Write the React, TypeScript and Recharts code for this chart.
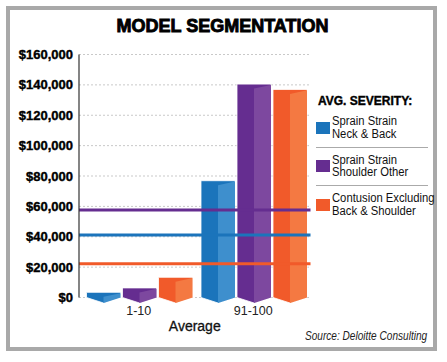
import React from "react";
import { Bar, BarChart, CartesianGrid, ReferenceLine, XAxis, YAxis } from "recharts";

const ranges = ["1-10", "91-100"];
const neckBack = [3400, 76900];
const shoulderOther = [6300, 140500];
const contusion = [13300, 137000];
const avgSeverity = [41200, 57600, 22300];
const yTicks = [0, 20000, 40000, 60000, 80000, 100000, 120000, 140000, 160000];

const seriesKeys = ["neckBack", "shoulderOther", "contusion"];
const seriesLabels = [
  ["Sprain Strain", "Neck & Back"],
  ["Sprain Strain", "Shoulder Other"],
  ["Contusion Excluding", "Back & Shoulder"],
];
const darkColors = ["#1b74bb", "#652d90", "#f15a2a"];
const lightColors = ["#3e8fcd", "#7d489f", "#f47942"];

const data = ranges.map((range, i) => ({
  range,
  neckBack: neckBack[i],
  shoulderOther: shoulderOther[i],
  contusion: contusion[i],
}));

const SANS = "'Liberation Sans', Arial, sans-serif";

function Prism(props: any) {
  const { x, y, width, height, dark, light } = props;
  if (width == null || height == null) return null;
  const b = y + height;
  const cx = x + width / 2;
  const d = 5.5;
  const outer = `${x},${y} ${x + width},${y} ${x + width},${b} ${cx},${b + d} ${x},${b}`;
  const face = `${cx},${Math.min(y + 4.5, b)} ${x + width},${Math.min(y + 0.8, b)} ${x + width},${b} ${cx},${b + d}`;
  return (
    <g>
      <polygon points={outer} fill={dark} stroke="#fff" strokeWidth={0.8} />
      <polygon points={face} fill={light} />
    </g>
  );
}

const narrow = (scale: number): React.CSSProperties => ({
  display: "inline-block",
  transform: `scaleX(${scale})`,
  transformOrigin: "left top",
  whiteSpace: "nowrap",
});

export default function App() {
  return (
    <div style={{ position: "absolute", left: 0, top: 0, width: 447, height: 362, background: "#fff", fontFamily: SANS }}>
      <div style={{ position: "absolute", left: 6, top: 6, width: 423, height: 337, border: "4px solid #a9a9a9" }} />
      <div style={{ position: "absolute", left: 0, top: 16, width: 445, textAlign: "center", fontSize: 18, fontWeight: "bold", color: "#000", WebkitTextStroke: "0.9px #000" }}>
        MODEL SEGMENTATION
      </div>

      <BarChart
        width={447}
        height={362}
        data={data}
        margin={{ top: 54.5, right: 136.5, left: 9, bottom: 24.5 }}
        barCategoryGap={5}
        barGap={2}
        style={{ position: "absolute", left: 0, top: 0 }}
      >
        <CartesianGrid vertical={false} stroke="#c9c9c9" strokeDasharray="2 2" />
        <XAxis
          dataKey="range"
          height={40}
          axisLine={false}
          tickLine={false}
          tickSize={0}
          tickMargin={9}
          padding={{ left: 2.5, right: 0 }}
          tick={{ fontSize: 12.5, fill: "#222", fontFamily: SANS }}
          label={{ value: "Average", position: "insideBottom", offset: 7, fontSize: 14, fill: "#111", fontFamily: SANS, stroke: "#111", strokeWidth: 0.3 }}
        />
        <YAxis
          width={70}
          domain={[0, 160000]}
          ticks={yTicks}
          interval={0}
          axisLine={{ stroke: "#333", strokeWidth: 1.2 }}
          tickLine={false}
          tickSize={0}
          tickMargin={6}
          tickFormatter={(v: number) => `$${v.toLocaleString("en-US")}`}
          tick={{ fontSize: 13, fontWeight: "bold", fill: "#000", stroke: "#000", strokeWidth: 0.4, fontFamily: SANS }}
        />
        {seriesKeys.map((key, i) => (
          <Bar
            key={key}
            dataKey={key}
            isAnimationActive={false}
            fill={darkColors[i]}
            shape={(p: any) => <Prism {...p} dark={darkColors[i]} light={lightColors[i]} />}
          />
        ))}
        {avgSeverity.map((v, i) => (
          <ReferenceLine key={i} y={v} stroke={darkColors[i]} strokeWidth={3} />
        ))}
      </BarChart>

      <div style={{ position: "absolute", left: 318, top: 94, fontSize: 12.5, fontWeight: "bold", color: "#000", WebkitTextStroke: "0.4px #000" }}>
        <span style={narrow(0.96)}>AVG. SEVERITY:</span>
      </div>
      {seriesLabels.map((lines, i) => (
        <div key={i} style={{ position: "absolute", left: 316, top: 115 + i * 38.7, width: 112, height: 26 }}>
          <div style={{ position: "absolute", left: 0, top: 6.5, width: 13.5, height: 12.3, background: darkColors[i] }} />
          {lines.map((l, j) => (
            <div key={j} style={{ position: "absolute", left: 16, top: j * 12.7, fontSize: 12.5, lineHeight: "12px", height: 12, color: "#111" }}>
              <span style={narrow(0.9)}>{l}</span>
            </div>
          ))}
          {i < seriesLabels.length - 1 && (
            <div style={{ position: "absolute", left: 0, top: 31.5, width: 112, height: 1, background: "#aaa" }} />
          )}
        </div>
      ))}

      <div style={{ position: "absolute", left: 305, top: 329, fontStyle: "italic", fontSize: 12, color: "#222" }}>
        <span style={narrow(0.84)}>Source: Deloitte Consulting</span>
      </div>
    </div>
  );
}
